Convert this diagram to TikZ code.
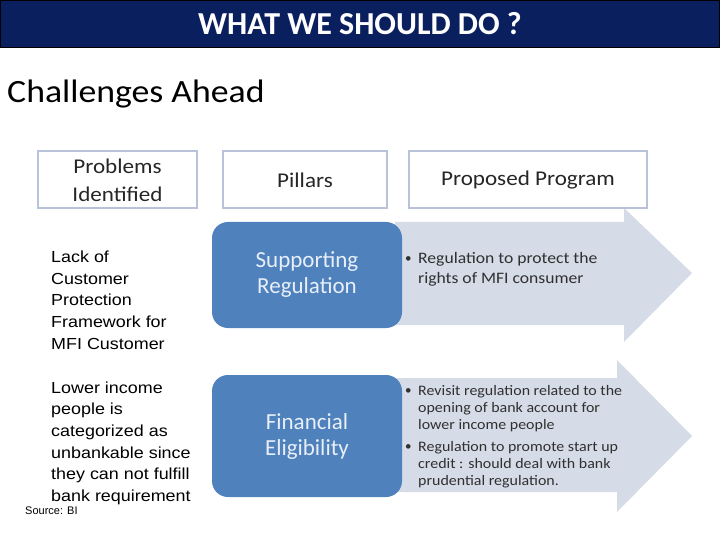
\documentclass[tikz,border=0pt]{standalone}
\usepackage{fontspec}
\setmainfont{Carlito}
\newfontfamily\widef{Carlito}[FakeStretch=1.1]
\newfontfamily\arialf{Liberation Sans}[FakeStretch=1.12]
\newfontfamily\arialplain{Liberation Sans}
\definecolor{navy}{HTML}{0A1F5E}
\definecolor{boxline}{HTML}{B8C3DA}
\definecolor{arrowfill}{HTML}{D5DBE7}
\definecolor{pillblue}{HTML}{4F81BD}
\definecolor{pilltext}{HTML}{E8EFF8}
\definecolor{bultext}{HTML}{303030}
\begin{document}
\begin{tikzpicture}[x=1pt,y=-1pt,
  headbox/.style={draw=boxline,line width=2.5pt,fill=white},
  headtxt/.style={font=\widef\fontsize{21}{28}\selectfont,align=center,text=black!85},
  pill/.style={fill=pillblue,rounded corners=16pt},
  pilltxt/.style={font=\fontsize{23}{26}\selectfont,align=center,text=pilltext},
  bigarrow/.style={fill=arrowfill},
  bul/.style={anchor=north west,inner sep=0pt,text=bultext,align=left},
  lefttxt/.style={anchor=north west,inner sep=0pt,align=left,font=\arialf\fontsize{16}{21.6}\selectfont}]
\useasboundingbox (0,0) rectangle (720,540);
\fill[white] (0,0) rectangle (720,540);
% title bar
\draw[fill=navy,draw=black,line width=1pt] (0.5,0.5) rectangle (719.5,48);
\node[text=white,font=\bfseries\fontsize{32}{36}\selectfont] (title) at (360,24) {WHAT WE SHOULD DO ?};
\node[anchor=west,inner sep=0pt,font=\widef\fontsize{32.5}{36}\selectfont] (chal) at (7,94) {Challenges Ahead};
% header boxes
\draw[headbox] (38,151) rectangle (197,208);
\node[headtxt] (prob) at (117.5,180) {Problems\\Identified};
% arrows (drawn before header boxes so they tuck behind)
\fill[bigarrow] (395,222) -- (624,222) -- (624,208) -- (692,273) -- (624,342) -- (624,325) -- (395,325) -- cycle;
\fill[bigarrow] (395,378) -- (617,378) -- (617,360) -- (692,436) -- (617,512) -- (617,492) -- (395,492) -- cycle;
\draw[headbox] (223,151) rectangle (387,208);
\node[headtxt] (pill) at (305,180) {Pillars};
\draw[headbox] (409,151) rectangle (647,208);
\node[headtxt] (prog) at (528,180) {Proposed Program};
% pillars
\fill[pill] (212,222) rectangle (402,328);
\node[pilltxt] (sup) at (307,275) {Supporting\\Regulation};
\fill[pill] (212,375) rectangle (402,497);
\node[pilltxt] (fin) at (307,436) {Financial\\Eligibility};
% bullets
\node[bul,font=\fontsize{13}{20}\selectfont] (b1) at (405,256) {•};
\node[bul,font=\widef\fontsize{16}{20}\selectfont] (t1) at (418,252) {Regulation to protect the\\rights of MFI consumer};
\node[bul,font=\fontsize{13}{17.2}\selectfont] (b2) at (405,388) {•};
\node[bul,font=\widef\fontsize{14.5}{17.2}\selectfont] (t2) at (418,385) {Revisit regulation related to the\\opening of bank account for\\lower income people};
\node[bul,font=\fontsize{13}{17.2}\selectfont] (b3) at (405,444) {•};
\node[bul,font=\widef\fontsize{14.5}{17.2}\selectfont] (t3) at (418,441) {Regulation to promote start up\\credit : should deal with bank\\prudential regulation.};
% left texts
\node[lefttxt] (l1) at (51,251) {Lack of\\Customer\\Protection\\Framework for\\MFI Customer};
\node[lefttxt] (l2) at (51,381.5) {Lower income\\people is\\categorized as\\unbankable since\\they can not fulfill\\bank requirement};
\node[anchor=west,inner sep=0pt,font=\arialplain\fontsize{11}{13}\selectfont] (src) at (25,511) {Source: BI};
\end{tikzpicture}
\end{document}
